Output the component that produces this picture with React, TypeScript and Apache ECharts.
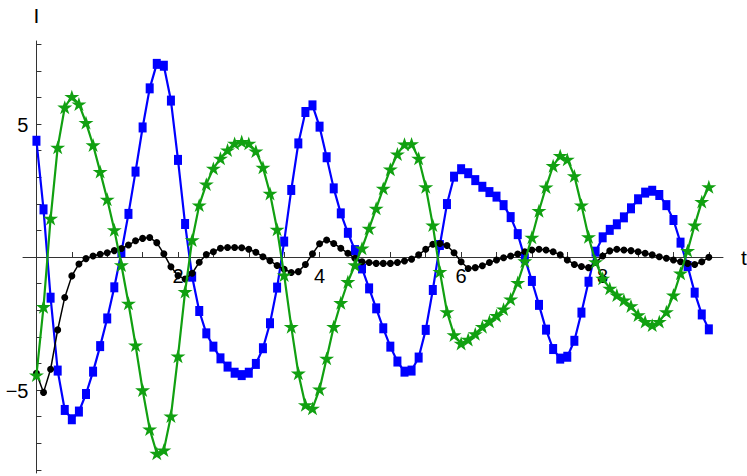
import React, { useEffect, useRef } from "react";
import * as echarts from "echarts";

const tValues = [
  0, 0.1, 0.2, 0.3, 0.4, 0.5, 0.6, 0.7, 0.8, 0.9,
  1, 1.1, 1.2, 1.3, 1.4, 1.5, 1.6, 1.7, 1.8, 1.9,
  2, 2.1, 2.2, 2.3, 2.4, 2.5, 2.6, 2.7, 2.8, 2.9,
  3, 3.1, 3.2, 3.3, 3.4, 3.5, 3.6, 3.7, 3.8, 3.9,
  4, 4.1, 4.2, 4.3, 4.4, 4.5, 4.6, 4.7, 4.8, 4.9,
  5, 5.1, 5.2, 5.3, 5.4, 5.5, 5.6, 5.7, 5.8, 5.9,
  6, 6.1, 6.2, 6.3, 6.4, 6.5, 6.6, 6.7, 6.8, 6.9,
  7, 7.1, 7.2, 7.3, 7.4, 7.5, 7.6, 7.7, 7.8, 7.9,
  8, 8.1, 8.2, 8.3, 8.4, 8.5, 8.6, 8.7, 8.8, 8.9,
  9, 9.1, 9.2, 9.3, 9.4, 9.5,
];

const blueValues = [
  4.37, 1.79, -1.53, -4.27, -5.75, -6.1, -5.81, -5.15, -4.31, -3.35,
  -2.31, -1.14, 0.18, 1.62, 3.21, 4.87, 6.34, 7.26, 7.19, 5.88,
  3.65, 1.24, -0.74, -2.03, -2.87, -3.37, -3.81, -4.12, -4.35, -4.44,
  -4.35, -4.02, -3.43, -2.49, -1.15, 0.58, 2.52, 4.27, 5.45, 5.7,
  4.9, 3.75, 2.58, 1.64, 0.91, 0.26, -0.43, -1.18, -1.93, -2.68,
  -3.37, -3.93, -4.31, -4.27, -3.78, -2.74, -1.24, 0.45, 1.99, 3.02,
  3.3, 3.15, 2.89, 2.64, 2.44, 2.27, 1.95, 1.5, 0.86, -0.05,
  -0.9, -1.8, -2.73, -3.46, -3.82, -3.75, -3.15, -2.09, -0.93, 0.2,
  0.74, 1.02, 1.23, 1.49, 1.83, 2.17, 2.42, 2.49, 2.33, 1.95,
  1.39, 0.54, -0.34, -1.34, -2.16, -2.72,
];

const greenValues = [
  -4.44, -1.87, 1.45, 4.12, 5.63, 6.03, 5.75, 5.05, 4.21, 3.21,
  2.17, 1.02, -0.3, -1.74, -3.31, -5.0, -6.47, -7.38, -7.26, -5.98,
  -3.73, -1.3, 0.64, 1.95, 2.74, 3.33, 3.71, 4.02, 4.27, 4.34,
  4.27, 3.98, 3.37, 2.39, 1.04, -0.68, -2.62, -4.37, -5.56, -5.69,
  -4.97, -3.81, -2.62, -1.72, -0.93, -0.3, 0.33, 1.08, 1.83, 2.58,
  3.3, 3.87, 4.24, 4.25, 3.71, 2.64, 1.2, -0.55, -2.06, -2.93,
  -3.25, -3.1, -2.89, -2.62, -2.42, -2.2, -1.96, -1.58, -0.96, -0.15,
  0.74, 1.74, 2.63, 3.43, 3.81, 3.67, 3.05, 1.95, 0.76, -0.18,
  -0.8, -1.18, -1.43, -1.62, -1.84, -2.18, -2.43, -2.56, -2.43, -2.06,
  -1.43, -0.61, 0.24, 1.2, 2.08, 2.64,
];

const blackValues = [
  -4.37, -5.09, -4.22, -2.74, -1.52, -0.71, -0.26, -0.06, 0.04, 0.1,
  0.16, 0.24, 0.32, 0.45, 0.61, 0.7, 0.73, 0.54, 0.12, -0.37,
  -0.7, -0.83, -0.61, -0.2, 0.09, 0.2, 0.33, 0.36, 0.36, 0.35,
  0.29, 0.18, 0.01, -0.14, -0.32, -0.46, -0.58, -0.55, -0.28, 0.12,
  0.5, 0.64, 0.51, 0.33, 0.14, -0.05, -0.18, -0.21, -0.24, -0.24,
  -0.24, -0.21, -0.15, -0.08, 0.08, 0.29, 0.48, 0.51, 0.43, 0.16,
  -0.18, -0.43, -0.4, -0.33, -0.21, -0.11, -0.03, 0.04, 0.11, 0.2,
  0.26, 0.29, 0.26, 0.2, 0.08, -0.11, -0.28, -0.36, -0.4, -0.21,
  0.04, 0.23, 0.29, 0.26, 0.24, 0.2, 0.14, 0.08, 0.01, -0.05,
  -0.11, -0.18, -0.24, -0.28, -0.18, -0.01,
];

const xTickValues = [0.5, 1, 1.5, 2, 2.5, 3, 3.5, 4, 4.5, 5, 5.5, 6, 6.5, 7, 7.5, 8, 8.5, 9, 9.5];
const xLabelValues = [2, 4, 6, 8];
const yTickValues = [-8, -7, -6, -5, -4, -3, -2, -1, 1, 2, 3, 4, 5, 6, 7, 8];
const yLabelValues = [-5, 5];

const FONT = "'Liberation Sans', Arial, Helvetica, sans-serif";
const STAR =
  "path://M50,0 L61.8,35.4 L100,35.4 L69.1,57.3 L80.9,92.7 L50,70.8 L19.1,92.7 L30.9,57.3 L0,35.4 L38.2,35.4 Z";

const fmt = (v: number) => (v < 0 ? "\u2212" + Math.abs(v) : String(v));

export default function App() {
  const ref = useRef<HTMLDivElement>(null);

  useEffect(() => {
    if (!ref.current) return;
    const chart = echarts.init(ref.current, null, { renderer: "svg" });
    const pairs = (vals: number[]) => tValues.map((t, i) => [t, vals[i]]);
    const axisLineStyle = { color: "#333", width: 1 };

    chart.setOption({
      animation: false,
      grid: { left: 23, right: 24, top: 41, bottom: 3, containLabel: false, outerBoundsMode: "none" },
      xAxis: {
        type: "value",
        min: -0.19,
        max: 9.7,
        splitLine: { show: false },
        axisLine: { show: true, onZero: true, lineStyle: axisLineStyle },
        axisTick: { show: true, inside: true, length: 5, customValues: xTickValues, lineStyle: axisLineStyle },
        axisLabel: { show: false },
      },
      yAxis: {
        type: "value",
        min: -8.12,
        max: 8.12,
        splitLine: { show: false },
        axisLine: { show: true, onZero: true, lineStyle: axisLineStyle },
        axisTick: { show: true, inside: true, length: 5, customValues: yTickValues, lineStyle: axisLineStyle },
        axisLabel: { show: false },
      },
      series: [
        {
          name: "blue",
          type: "line",
          data: pairs(blueValues),
          symbol: "rect",
          symbolSize: [8, 10],
          showAllSymbol: true,
          lineStyle: { color: "#0000FF", width: 2.2 },
          itemStyle: { color: "#0000FF" },
          emphasis: { disabled: true },
          silent: true,
          z: 2,
        },
        {
          name: "black",
          type: "line",
          data: pairs(blackValues),
          symbol: "circle",
          symbolSize: 7,
          showAllSymbol: true,
          lineStyle: { color: "#000000", width: 1.5 },
          itemStyle: { color: "#000000" },
          emphasis: { disabled: true },
          silent: true,
          z: 3,
        },
        {
          name: "green",
          type: "line",
          data: pairs(greenValues),
          symbol: STAR,
          symbolSize: 15,
          symbolKeepAspect: true,
          showAllSymbol: true,
          lineStyle: { color: "#11A011", width: 2.2 },
          itemStyle: { color: "#11A011" },
          emphasis: { disabled: true },
          silent: true,
          z: 4,
        },
      ],
    });

    // tick labels placed on the zero-crossing axes via the chart's own scales
    const labels: any[] = [];
    xLabelValues.forEach((v) => {
      const p = chart.convertToPixel({ gridIndex: 0 }, [v, 0]) as number[];
      labels.push({
        type: "text",
        x: p[0],
        y: p[1] + 9,
        z: 0,
        style: { text: fmt(v), align: "center", verticalAlign: "top", fontSize: 20, fontFamily: FONT, fill: "#000" },
      });
    });
    yLabelValues.forEach((v) => {
      const p = chart.convertToPixel({ gridIndex: 0 }, [0, v]) as number[];
      labels.push({
        type: "text",
        x: p[0] - 8,
        y: p[1] + 1,
        z: 0,
        style: { text: fmt(v), align: "right", verticalAlign: "middle", fontSize: 20, fontFamily: FONT, fill: "#000" },
      });
    });
    const origin = chart.convertToPixel({ gridIndex: 0 }, [0, 0]) as number[];
    labels.push({
      type: "text",
      x: origin[0],
      y: 5,
      z: 0,
      style: { text: "I", align: "center", verticalAlign: "top", fontSize: 21, fontFamily: FONT, fill: "#000" },
    });
    labels.push({
      type: "text",
      x: 741,
      y: origin[1],
      z: 0,
      style: { text: "t", align: "left", verticalAlign: "middle", fontSize: 21, fontFamily: FONT, fill: "#000" },
    });
    chart.setOption({ graphic: labels });

    return () => chart.dispose();
  }, []);

  return (
    <div
      ref={ref}
      style={{ position: "fixed", left: 0, top: 0, width: 747, height: 476, background: "#fff" }}
    />
  );
}
